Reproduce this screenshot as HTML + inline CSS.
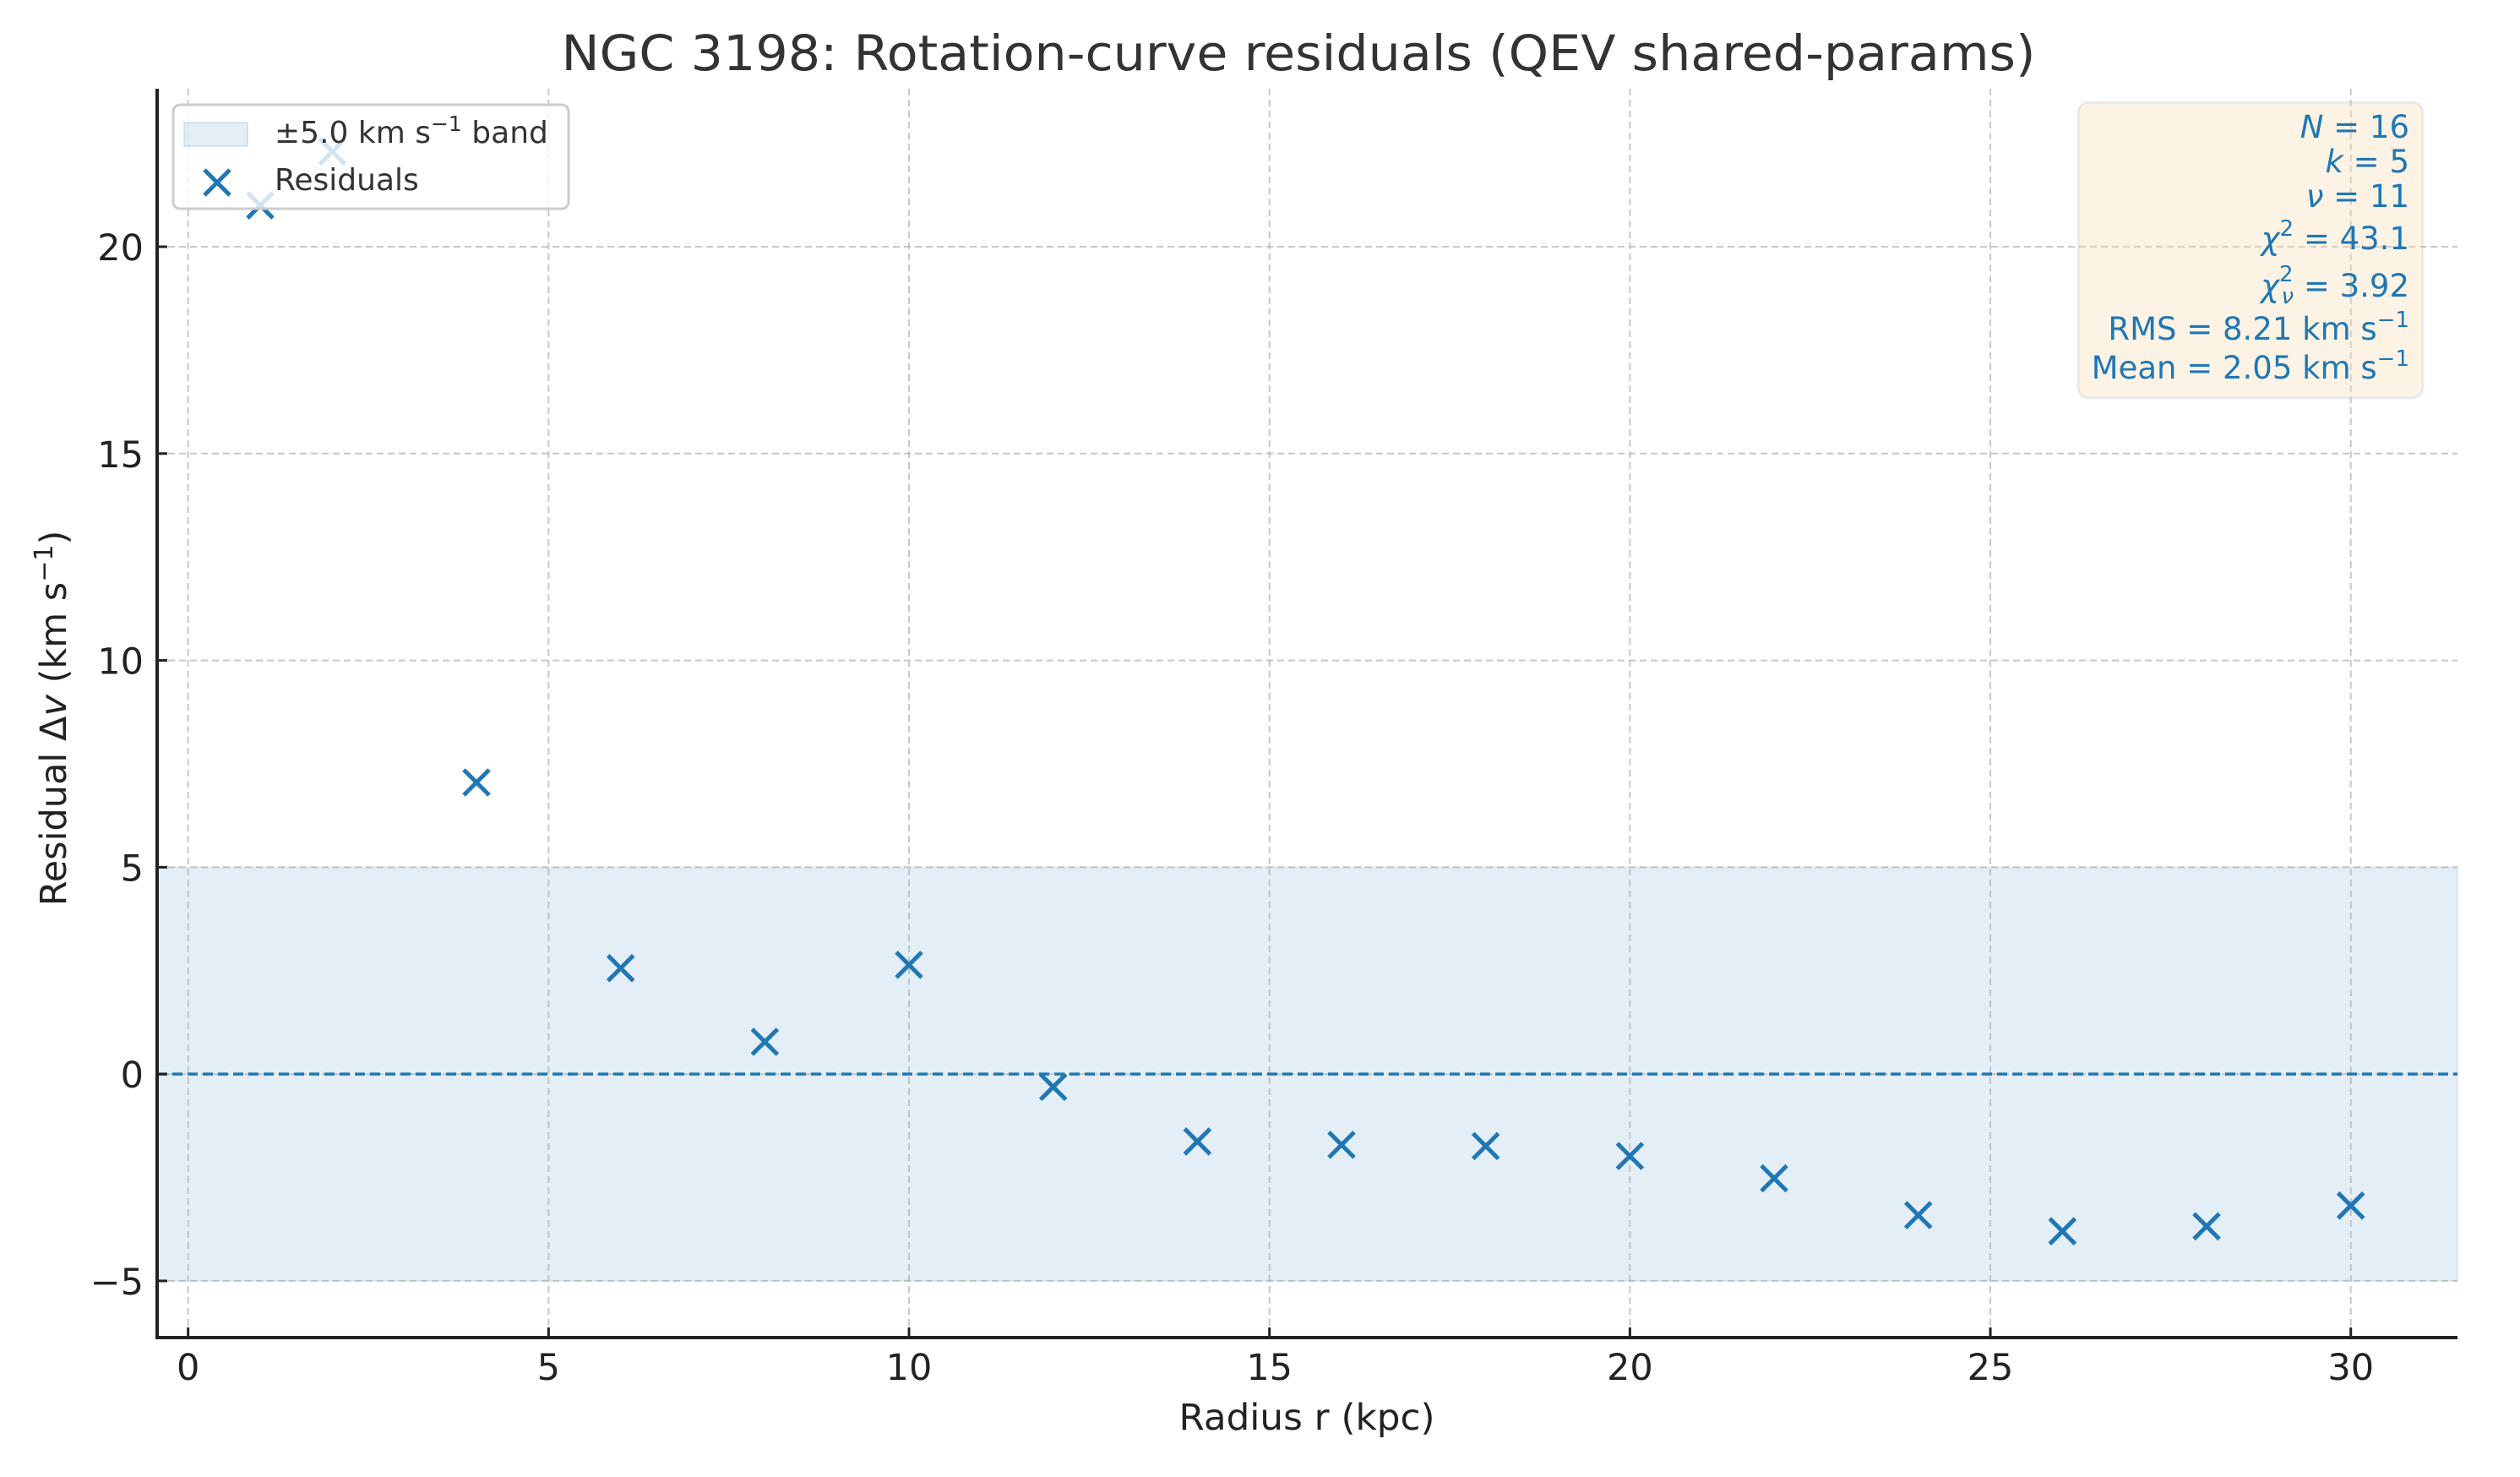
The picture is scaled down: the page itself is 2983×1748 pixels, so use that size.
<!DOCTYPE html>
<html><head><meta charset="utf-8"><style>
html,body{margin:0;padding:0;background:#fff;}
svg{display:block;font-family:"DejaVu Sans","Liberation Sans",sans-serif;}
</style></head><body>
<svg id="chart" width="2983" height="1748" viewBox="0 0 2983 1748" xmlns="http://www.w3.org/2000/svg">
<rect width="2983" height="1748" fill="#fff"/>
<text x="1537" y="83" text-anchor="middle" font-size="58" fill="#333" textLength="1745" lengthAdjust="spacingAndGlyphs">NGC 3198: Rotation-curve residuals (QEV shared-params)</text>
<g id="band"></g>
<g id="grid"></g>
<g id="zero"></g>
<g id="marks"></g>
<g id="axes"></g>
<g>
<rect x="205" y="124" width="468" height="123" rx="8" fill="#fff" fill-opacity="0.8" stroke="#ccc" stroke-width="3"/>
<rect x="218" y="145" width="75" height="28" fill="#1f77b4" fill-opacity="0.12" stroke="#1f77b4" stroke-opacity="0.15" stroke-width="2"/>
<text x="325" y="169" font-size="36" fill="#333">±5.0 km s<tspan font-size="25" dy="-14">−1</tspan><tspan dy="14"> band</tspan></text>
<path d="M242 201L272 231M272 201L242 231" stroke="#1f77b4" stroke-width="5"/>
<text x="325" y="225" font-size="36" fill="#333">Residuals</text>
</g>
<g>
<rect x="2460" y="121" width="408" height="350" rx="12" fill="#f5deb3" fill-opacity="0.35" stroke="#1f77b4" stroke-opacity="0.1" stroke-width="3"/>
<g font-size="37" fill="#1f77b4" text-anchor="end">
<text x="2852" y="163"><tspan font-style="italic">N</tspan> = 16</text>
<text x="2852" y="204"><tspan font-style="italic">k</tspan> = 5</text>
<text x="2852" y="245"><tspan font-style="italic">ν</tspan> = 11</text>
<text x="2852" y="295"><tspan font-style="italic">χ</tspan><tspan font-size="26" dy="-16">2</tspan><tspan dy="16"> = 43.1</tspan></text>
<text x="2852" y="351"><tspan font-style="italic">χ</tspan><tspan font-size="26" dy="-18">2</tspan><tspan font-size="26" font-style="italic" dx="-14" dy="26">ν</tspan><tspan dy="-8"> = 3.92</tspan></text>
<text x="2852" y="402">RMS = 8.21 km s<tspan font-size="26" dy="-15">−1</tspan></text>
<text x="2852" y="448">Mean = 2.05 km s<tspan font-size="26" dy="-15">−1</tspan></text>
</g>
</g>
<text x="1547" y="1692" text-anchor="middle" font-size="43" fill="#222" textLength="303" lengthAdjust="spacingAndGlyphs">Radius r (kpc)</text>
<text transform="translate(78,850) rotate(-90)" text-anchor="middle" font-size="43" fill="#222">Residual Δ<tspan font-style="italic">v</tspan> (km s<tspan font-size="30" dy="-16">−1</tspan><tspan dy="16">)</tspan></text>
</svg>
<script>
const radii = [1,2,4,6,8,10,12,14,16,18,20,22,24,26,28,30];
const residuals = [21.0,22.3,7.05,2.56,0.78,2.64,-0.31,-1.63,-1.71,-1.74,-1.98,-2.52,-3.41,-3.80,-3.68,-3.18];
const xTicks = [0,5,10,15,20,25,30];
const yTicks = [-5,0,5,10,15,20];
const bandHalfWidth = [5.0];

const L=186,R=2909,T=105,B=1583;
const xMin=-0.43,xMax=31.48,yMin=-6.37,yMax=23.82;
const sx=v=>L+(v-xMin)/(xMax-xMin)*(R-L);
const sy=v=>B-(v-yMin)/(yMax-yMin)*(B-T);
const NS="http://www.w3.org/2000/svg";
function mk(tag,attrs,parent){const e=document.createElementNS(NS,tag);for(const k in attrs)e.setAttribute(k,attrs[k]);parent.appendChild(e);return e;}

const band=document.getElementById('band');
const br=mk('rect',{x:L,y:sy(bandHalfWidth[0]),width:R-L,height:sy(-bandHalfWidth[0])-sy(bandHalfWidth[0]),fill:'#1f77b4','fill-opacity':0.12,stroke:'#1f77b4','stroke-opacity':0.1,'stroke-width':2},band);



const grid=document.getElementById('grid');
const axes=document.getElementById('axes');
xTicks.forEach(t=>{
  const x=sx(t);
  const g=mk('line',{x1:x,x2:x,y1:T,y2:B,stroke:'#b0b0b0','stroke-opacity':0.7,'stroke-width':2,'stroke-dasharray':'8,5'},grid);
  
  
  const tk=mk('line',{x1:x,x2:x,y1:B,y2:B-12,stroke:'#222','stroke-width':3},axes);
  
  
  const lb=mk('text',{x:x,y:1633,'text-anchor':'middle','font-size':43,fill:'#222'},axes);
  lb.textContent=String(t);
  
  
});
yTicks.forEach(t=>{
  const y=sy(t);
  const g=mk('line',{x1:L,x2:R,y1:y,y2:y,stroke:'#b0b0b0','stroke-opacity':0.7,'stroke-width':2,'stroke-dasharray':'8,5'},grid);
  
  
  const tk=mk('line',{x1:L,x2:L+12,y1:y,y2:y,stroke:'#222','stroke-width':3},axes);
  
  
  const lb=mk('text',{x:170,y:y+16,'text-anchor':'end','font-size':43,fill:'#222'},axes);
  lb.textContent=t<0?'−'+Math.abs(t):String(t);
  
  
});
const zl=mk('line',{x1:L,x2:R,y1:sy(0),y2:sy(0),stroke:'#1f77b4','stroke-width':3.5,'stroke-dasharray':'12,6'},document.getElementById('zero'));



const marks=document.getElementById('marks');
radii.forEach((r,i)=>{
  const x=sx(r),y=sy(residuals[i]),s=15;
  const p=mk('path',{d:`M${x-s} ${y-s}L${x+s} ${y+s}M${x+s} ${y-s}L${x-s} ${y+s}`,stroke:'#1f77b4','stroke-width':5},marks);
  
  
});
const ax=mk('path',{d:`M${L} ${T}L${L} ${B}L${R} ${B}`,fill:'none',stroke:'#222','stroke-width':4},axes);


</script>
</body></html>
